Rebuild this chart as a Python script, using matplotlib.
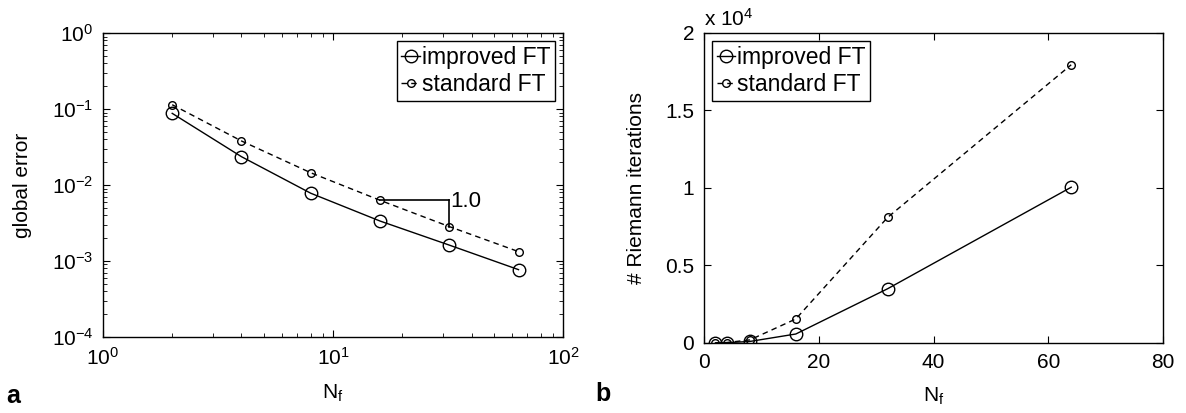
import matplotlib.pyplot as plt
from matplotlib.ticker import LogLocator, NullFormatter

plt.rcParams['font.family'] = ['Liberation Sans', 'DejaVu Sans']
plt.rcParams['mathtext.fontset'] = 'custom'
plt.rcParams['mathtext.rm'] = 'Liberation Sans'
plt.rcParams['mathtext.it'] = 'Liberation Sans'

# data
Nf = [2, 4, 8, 16, 32, 64]
err_improved = [0.0877, 0.0236, 0.0078, 0.00336, 0.00162, 0.00077]
err_standard = [0.114, 0.038, 0.0145, 0.0063, 0.00284, 0.00133]
iter_improved = [10, 20, 100, 580, 3500, 10050]
iter_standard = [15, 30, 200, 1550, 8100, 17950]
ytick_vals = [0, 5000, 10000, 15000, 20000]
ytick_labels = ["0", "0.5", "1", "1.5", "2"]

fs = 15
fs_leg = 16.5
fig = plt.figure(figsize=(11.86, 4.13), dpi=100)
ax1 = fig.add_axes([0.0868, 0.184, 0.388, 0.736])
ax2 = fig.add_axes([0.5936, 0.1695, 0.387, 0.7506])

line_kw = dict(color="black", lw=1.0, mfc="none", mew=1.0)
leg_kw = dict(fontsize=fs_leg, handlelength=0.8, handletextpad=0.1,
              borderaxespad=0.35, borderpad=0.2, labelspacing=0.2, fancybox=False,
              edgecolor="black", framealpha=1)

# panel a
ax1.loglog(Nf, err_improved, "-o", ms=9, label="improved FT", **line_kw)
ax1.loglog(Nf, err_standard, "--o", ms=5.5, dashes=(4, 3), label="standard FT", **line_kw)
ax1.set_xlim(1, 100)
ax1.set_ylim(1e-4, 1)
ax1.yaxis.set_major_locator(LogLocator(base=10, numticks=10))
ax1.yaxis.set_minor_locator(LogLocator(base=10, subs=range(2, 10), numticks=20))
ax1.yaxis.set_minor_formatter(NullFormatter())

# slope triangle
ax1.plot([Nf[3], Nf[4]], [err_standard[3], err_standard[3]], color="black", lw=1.2)
ax1.plot([Nf[4], Nf[4]], [err_standard[3], err_standard[4]], color="black", lw=1.2)
ax1.text(Nf[4] * 1.01, err_standard[3] * 0.97, "1.0", fontsize=fs + 1, va="center", ha="left")

ax1.set_ylabel("global error", fontsize=fs, labelpad=14)
ax1.set_xlabel("N$_\\mathrm{f}$", fontsize=fs, labelpad=10)
ax1.legend(loc="upper right", **leg_kw)

# panel b
ax2.plot(Nf, iter_improved, "-o", ms=9, label="improved FT", **line_kw)
ax2.plot(Nf, iter_standard, "--o", ms=5.5, dashes=(4, 3), label="standard FT", **line_kw)
ax2.set_xlim(0, 80)
ax2.set_ylim(0, 20000)
ax2.set_xticks([0, 20, 40, 60, 80])
ax2.set_yticks(ytick_vals)
ax2.set_yticklabels(ytick_labels)
ax2.text(0.0, 1.01, "x 10$^4$", transform=ax2.transAxes, fontsize=fs, ha="left", va="bottom")
ax2.set_ylabel("# Riemann iterations", fontsize=fs, labelpad=14)
ax2.set_xlabel("N$_\\mathrm{f}$", fontsize=fs, labelpad=10)
ax2.legend(loc="upper left", **leg_kw)

for ax in (ax1, ax2):
    ax.tick_params(which="both", direction="in", top=True, right=True, labelsize=fs)
    ax.tick_params(which="major", length=5, pad=7)
    ax.tick_params(which="minor", length=3)
    for s in ax.spines.values():
        s.set_linewidth(1.0)

fig.text(0.005, 0.025, "a", fontsize=18, fontweight="bold")
fig.text(0.502, 0.03, "b", fontsize=18, fontweight="bold")

fig.savefig("out.png", dpi=100)
